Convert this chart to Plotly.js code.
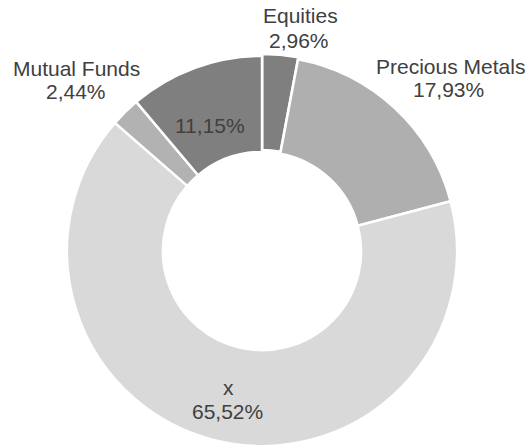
<!DOCTYPE html>
<html>
<head>
<meta charset="utf-8">
<script src="https://cdn.plot.ly/plotly-3.0.1.min.js"></script>
<style>html,body{margin:0;padding:0;background:#fff;overflow:hidden;}#chart{width:531px;height:448px;}</style>
</head>
<body>
<div id="chart"></div>
<script>
// Data
const categories = ["Equities", "Precious Metals", "x", "Mutual Funds", ""];
const shares = [2.96, 17.93, 65.52, 2.44, 11.15];

// Styles / layout (not data)
const sliceColors = ["#7f7f7f", "#afafaf", "#d9d9d9", "#b2b2b2", "#7f7f7f"];
const pulls = [0.01, 0, 0, 0, 0];
const W = 531, H = 448;
// label line centres in pixels: [nameX, nameY, pctX, pctY]
const labelSpots = [
  [300, 16, 299, 40],
  [450, 66, 448, 89.5],
  [228, 387, 227, 411],
  [76, 68, 76, 91],
  [210, 125, 210, 125]
];
const FONT = { family: "Liberation Sans, Arial, sans-serif", size: 21, color: "#404040" };

const total = shares.reduce((a, b) => a + b, 0);
const fmtPct = v => (v / total * 100).toFixed(2).replace(".", ",") + "%";

const annotations = [];
categories.forEach((name, i) => {
  const s = labelSpots[i];
  if (name !== "") {
    annotations.push({ xref: "paper", yref: "paper", x: s[0] / W, y: 1 - s[1] / H,
      xanchor: "center", yanchor: "middle", showarrow: false, text: name, font: FONT });
  }
  annotations.push({ xref: "paper", yref: "paper", x: s[2] / W, y: 1 - s[3] / H,
    xanchor: "center", yanchor: "middle", showarrow: false, text: fmtPct(shares[i]), font: FONT });
});

const trace = {
  type: "pie",
  labels: categories.map((c, i) => c === "" ? "slice " + i : c),
  values: shares,
  sort: false,
  direction: "clockwise",
  rotation: 0,
  hole: 0.508,
  pull: pulls,
  marker: { colors: sliceColors, line: { color: "#ffffff", width: 2.5 } },
  textinfo: "none",
  automargin: false,
  hoverinfo: "label+percent",
  domain: { x: [65 / W, 459 / W], y: [0, 394 / H] }
};

const layout = {
  width: W,
  height: H,
  margin: { l: 0, r: 0, t: 0, b: 0 },
  paper_bgcolor: "#ffffff",
  plot_bgcolor: "#ffffff",
  showlegend: false,
  separators: ", ",
  annotations: annotations
};

Plotly.newPlot("chart", [trace], layout, { displayModeBar: false, staticPlot: true });
</script>
</body>
</html>
